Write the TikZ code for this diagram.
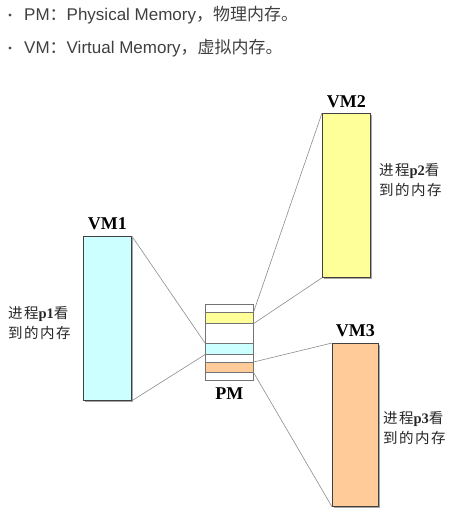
\documentclass[tikz,border=0pt]{standalone}
\usepackage{fontspec}
\setmainfont{Liberation Serif}
\setsansfont{Liberation Sans}
\newfontfamily\cjk{Noto Sans CJK SC}
\newfontfamily\cjkwide[LetterSpace=10]{Noto Sans CJK SC}
\usetikzlibrary{positioning,shadows}
\newcommand{\zh}[1]{{\cjk #1}}
\tikzset{
  vmbox/.style={draw=black!75, line width=0.8pt, minimum width=48pt, inner sep=0pt, anchor=north west,
    drop shadow={shadow xshift=2pt, shadow yshift=-2pt, fill=black!50, opacity=0.7}},
  pmstrip/.style={draw=black!55, line width=0.6pt, minimum width=48pt, inner sep=0pt, anchor=north west},
  vmlabel/.style={font=\rmfamily\bfseries\fontsize{18}{20}\selectfont, inner sep=1pt},
  seelabel/.style={font=\cjkwide\fontsize{14.5}{20}\selectfont, align=left, anchor=west, inner sep=0pt, text=black!85},
  bullettext/.style={font=\sffamily\fontsize{17}{19}\selectfont, text=black!75, anchor=west, inner sep=0pt},
  link/.style={draw=black!45, line width=0.6pt}
}

\begin{document}
\begin{tikzpicture}[x=1pt, y=-1pt]
  \useasboundingbox (0,0) rectangle (465,518);
  % notes on top
  \fill[black!70] (10,15) circle (1.7);
  \node[bullettext] (note1) at (24,15) {PM\zh{：}Physical Memory\zh{，物理内存。}};
  \fill[black!70] (10,48) circle (1.7);
  \node[bullettext] (note2) at (24,48) {VM\zh{：}Virtual Memory\zh{，虚拟内存。}};

  % virtual memories
  \node[vmbox, fill={rgb,255:red,204;green,255;blue,255}, minimum height=164pt] (vm1) at (83,236) {};
  \node[vmbox, fill={rgb,255:red,255;green,255;blue,153}, minimum height=164pt] (vm2) at (322,113) {};
  \node[vmbox, fill={rgb,255:red,255;green,204;blue,153}, minimum height=163pt, minimum width=46pt] (vm3) at (332,343) {};
  \node[vmlabel, above=5pt of vm1] {VM1};
  \node[vmlabel, above=4pt of vm2] {VM2};
  \node[vmlabel, above=5pt of vm3] {VM3};

  % physical memory
  \node[pmstrip, fill=white, minimum height=76pt] (pm) at (205,304) {};
  \node[pmstrip, fill={rgb,255:red,255;green,255;blue,153}, minimum height=11pt] (pmy) at (205,312) {};
  \node[pmstrip, fill={rgb,255:red,204;green,255;blue,255}, minimum height=11pt] (pmc) at (205,343) {};
  \node[pmstrip, fill={rgb,255:red,255;green,204;blue,153}, minimum height=10pt] (pmo) at (205,362) {};
  \node[vmlabel, below=6pt of pm] {PM};

  % mappings
  \draw[link] (vm1.north east) -- (pmc.north west);
  \draw[link] (vm1.south east) -- (pmc.south west);
  \draw[link] (vm2.north west) -- (pmy.north east);
  \draw[link] (vm2.south west) -- (pmy.south east);
  \draw[link] (vm3.north west) -- (pmo.north east);
  \draw[link] (vm3.south west) -- (pmo.south east);

  % what each process sees
  \node[seelabel] (see1) at (8,323) {进程{\rmfamily\bfseries p1}看\\到的内存};
  \node[seelabel] (see2) at (379,180) {进程{\rmfamily\bfseries p2}看\\到的内存};
  \node[seelabel] (see3) at (383,428) {进程{\rmfamily\bfseries p3}看\\到的内存};
\end{tikzpicture}
\end{document}
